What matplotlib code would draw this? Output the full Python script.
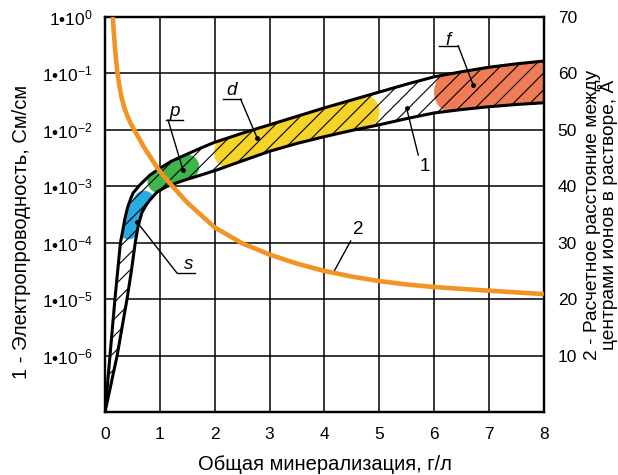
import numpy as np
import matplotlib
matplotlib.use('Agg')
import matplotlib.pyplot as plt
from matplotlib.ticker import FixedLocator, FuncFormatter, NullLocator

plt.rcParams['font.family'] = ['Liberation Sans', 'DejaVu Sans']
plt.rcParams['mathtext.fontset'] = 'custom'
plt.rcParams['mathtext.rm'] = 'Liberation Sans'
plt.rcParams['mathtext.it'] = 'Liberation Sans:italic'
plt.rcParams['axes.unicode_minus'] = False
plt.rcParams['hatch.linewidth'] = 0.8

# ---- data ----
# upper boundary of conductivity band (log10 of См/см)
band_up_x = [0, 0.09, 0.18, 0.28, 0.32, 0.36, 0.41, 0.46, 0.51, 0.64, 0.82, 1.0, 1.2, 1.45,
             1.75, 2.0, 2.5, 3.0, 3.5, 4.0, 4.5, 5.0, 5.5, 6.0, 6.5, 7.0, 7.5, 8.0]
band_up_exp = [-7, -6, -5, -4.0, -3.8, -3.58, -3.38, -3.24, -3.12, -2.97, -2.80, -2.68, -2.56, -2.45,
               -2.32, -2.22, -2.06, -1.91, -1.76, -1.61, -1.47, -1.33, -1.19, -1.06, -0.97, -0.89, -0.83, -0.78]
# lower boundary
band_low_x = [0, 0.11, 0.22, 0.31, 0.40, 0.48, 0.55, 0.60, 0.67, 0.75, 0.82, 0.95, 1.13, 1.42,
              1.75, 2.04, 2.5, 3.0, 3.5, 4.0, 4.5, 5.0, 5.5, 6.0, 6.5, 7.0, 7.5, 8.0]
band_low_exp = [-7, -6.5, -6.0, -5.5, -5.0, -4.5, -4.0, -3.72, -3.47, -3.33, -3.24, -3.10, -3.0, -2.9,
                -2.80, -2.71, -2.55, -2.38, -2.24, -2.12, -2.01, -1.91, -1.80, -1.70, -1.64, -1.59, -1.55, -1.52]

# coloured zones along the band: centre-line end points (x, log10 value), colour, width (pt)
zones = {
    's': dict(x=[0.428, 0.711], exp=[-3.757, -3.261], color='#29abe2', width=15),
    'p': dict(x=[1.0, 1.49], exp=[-2.906, -2.658], color='#3db54a', width=18),
    'd': dict(x=[2.30, 4.69], exp=[-2.39, -1.68], color='#f5d327', width=25),
    'f': dict(x=[6.40, 8.60], exp=[-1.33, -1.10], color='#f07c57', width=32),
}

# curve 2: calculated inter-ion distance, Å (right axis)
dist_x = [0.14, 0.16, 0.18, 0.20, 0.22, 0.26, 0.30, 0.35, 0.40, 0.47, 0.55, 0.70, 0.85, 1.0,
          1.22, 1.5, 2.0, 2.5, 3.0, 3.5, 4.0, 4.5, 5.0, 5.5, 6.0, 7.0, 8.0]
dist_y = [70, 67.2, 64.7, 62.5, 60.6, 57.8, 55.8, 54.0, 52.6, 51.1, 49.7, 47.1, 44.8, 42.6,
          40.1, 37.1, 32.7, 29.9, 27.9, 26.3, 25.0, 24.0, 23.2, 22.6, 22.15, 21.5, 20.9]

x_ticks = [0, 1, 2, 3, 4, 5, 6, 7, 8]
left_exps = [-6, -5, -4, -3, -2, -1, 0]
right_ticks = [10, 20, 30, 40, 50, 60, 70]

TICK_FS = 12.5
LABEL_FS = 14.5

# ---- figure ----
fig = plt.figure(figsize=(6.18, 4.75), dpi=100)
ax = fig.add_axes([0.170, 0.1326, 0.710, 0.8316])
ax.set_yscale('log')
ax.set_xlim(0, 8)
ax.set_ylim(1e-7, 1)
ax.xaxis.set_major_locator(FixedLocator(x_ticks))
ax.yaxis.set_major_locator(FixedLocator([10.0 ** e for e in left_exps]))
ax.yaxis.set_minor_locator(NullLocator())
ax.yaxis.set_major_formatter(FuncFormatter(
    lambda v, pos: '1•$\\mathregular{10^{%d}}$' % round(np.log10(v))))
ax.grid(True, color='black', lw=1.1)
ax.set_axisbelow(True)
ax.tick_params(axis='both', length=0, labelsize=TICK_FS)
ax.tick_params(axis='x', pad=11)
ax.tick_params(axis='y', pad=9)
for s in ax.spines.values():
    s.set_linewidth(1.6)

ux = np.array(band_up_x); uy = 10.0 ** np.array(band_up_exp)
lx = np.array(band_low_x); ly = 10.0 ** np.array(band_low_exp)
px = np.r_[ux, lx[::-1]]
py = np.r_[uy, ly[::-1]]

band = ax.fill(px, py, facecolor='white', edgecolor='none', zorder=1.5)[0]
for key, z in zones.items():
    ln, = ax.plot(z['x'], 10.0 ** np.array(z['exp']), color=z['color'], lw=z['width'],
                  solid_capstyle='round', zorder=2)
    ln.set_clip_path(band)
ax.fill(px, py, facecolor='none', edgecolor='black', lw=0, hatch='//', zorder=3)
ax.plot(ux, uy, color='black', lw=2.2, zorder=4, solid_capstyle='round')
ax.plot(lx, ly, color='black', lw=2.2, zorder=4, solid_capstyle='round')

# annotations (text, underline, leader)
def lab(text, tx, te, ul, ue, l0, l1, italic=True, dot=True):
    ax.text(tx, 10.0 ** te, text, fontsize=13.5, style='italic' if italic else 'normal',
            ha='center', va='center', zorder=6)
    if ul is not None:
        ax.plot(ul, [10.0 ** ue] * 2, color='black', lw=1.0, zorder=6)
    ax.plot([l0[0], l1[0]], [10.0 ** l0[1], 10.0 ** l1[1]], color='black', lw=1.0, zorder=6)
    if dot:
        ax.plot([l1[0]], [10.0 ** l1[1]], 'o', color='black', ms=2.5, zorder=6)

lab('p', 1.276, -1.68, [1.112, 1.421], -1.825, (1.148, -1.825), (1.421, -2.711))
lab('d', 2.309, -1.31, [2.145, 2.473], -1.459, (2.473, -1.459), (2.776, -2.150))
lab('f', 6.257, -0.42, [6.092, 6.438], -0.509, (6.438, -0.509), (6.712, -1.205))
lab('s', 1.518, -4.38, [1.306, 1.640], -4.531, (1.306, -4.531), (0.577, -3.627))
lab('1', 5.831, -2.652, None, None, (5.710, -2.446), (5.498, -1.618), italic=False)

ax.set_xlabel('Общая минерализация, г/л', fontsize=LABEL_FS, labelpad=9)
ax.set_ylabel('1 - Электропроводность, См/см', fontsize=LABEL_FS, labelpad=8)
ax.yaxis.label.set_y(0.456)

# right axis
ax2 = ax.twinx()
ax2.set_ylim(0, 70)
ax2.yaxis.set_major_locator(FixedLocator(right_ticks))
ax2.tick_params(axis='y', length=0, pad=10, labelsize=TICK_FS)
for s in ax2.spines.values():
    s.set_linewidth(1.6)
ax2.plot(dist_x, dist_y, color='#f29322', lw=3.3, zorder=5, solid_capstyle='butt')
ax2.text(4.616, 32.3, '2', fontsize=13.5, ha='center', va='center')
ax2.plot([4.477, 4.179], [30.3, 25.0], color='black', lw=1.0)
ax2.set_ylabel('2 - Расчетное расстояние между\nцентрами ионов в растворе, Å',
               fontsize=13.8, labelpad=5, linespacing=0.8)

fig.savefig('out.png', dpi=100)
